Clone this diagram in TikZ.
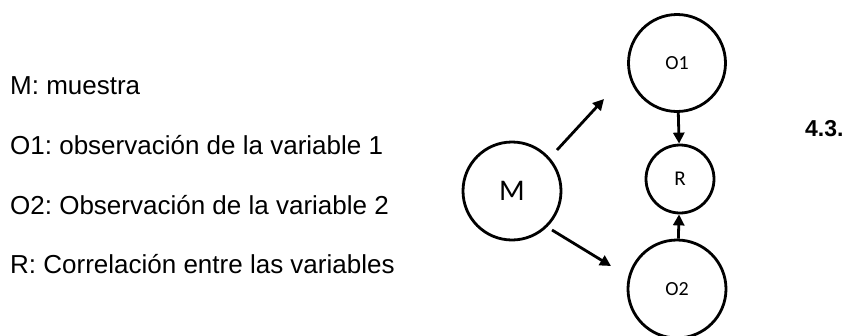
\documentclass[tikz,border=0pt]{standalone}
\usepackage{fontspec}
\setmainfont{Liberation Sans}
\newfontfamily\calib{Carlito}
\usetikzlibrary{arrows.meta}
\frenchspacing
\begin{document}
\begin{tikzpicture}[x=1pt,y=-1pt,
  circ/.style={draw,circle,line width=2.8pt,inner sep=0pt,minimum size=#1,font=\calib\fontsize{20}{20}\selectfont},
  arr/.style={line width=2.8pt,-{Triangle[length=11pt,width=11pt]}},
  lbl/.style={anchor=west,inner sep=0pt,font=\fontsize{26}{26}\selectfont}]
\useasboundingbox (0,0) rectangle (859,335);
\node[lbl] (t1) at (10,86) {M: muestra};
\node[lbl] (t2) at (10,145) {O1: observación de la variable 1};
\node[lbl] (t3) at (10,205) {O2: Observación de la variable 2};
\node[lbl] (t4) at (10,264) {R: Correlación entre las variables};
\node[circ=98pt,font=\calib\fontsize{30}{30}\selectfont] (M) at (512,191) {M};
\node[circ=97pt] (O1) at (677,63) {O1};
\node[circ=68pt,font=\calib\fontsize{21}{21}\selectfont] (R) at (680,179) {R};
\node[circ=98pt] (O2) at (677,289) {O2};
\coordinate (a1s) at (557,150);
\coordinate (a1e) at (604,99);
\coordinate (a2s) at (552,230);
\coordinate (a2e) at (611,266);
\draw[arr] (a1s) -- (a1e);
\draw[arr] (a2s) -- (a2e);
\draw[arr] (O1) -- (R);
\draw[arr] (O2) -- (R);
\node[anchor=west,inner sep=0pt,font=\bfseries\fontsize{23}{23}\selectfont] (num) at (805,129) {4.3.};
\end{tikzpicture}
\end{document}
